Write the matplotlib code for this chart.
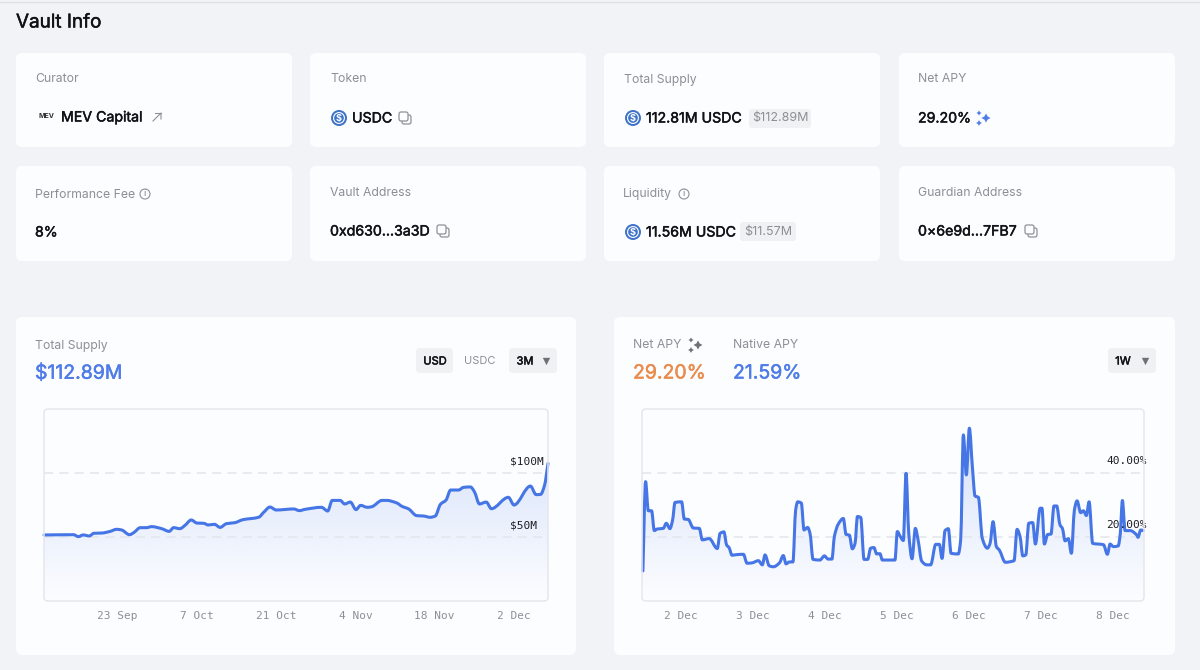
"""
plot.py
Vault info dashboard: stat cards on top, supply and APY charts below.
"""
import matplotlib
matplotlib.use('Agg')
import matplotlib.pyplot as plt
import matplotlib.patheffects as pe
from matplotlib.patches import Circle, FancyBboxPatch, PathPatch, Polygon
from matplotlib.path import Path
from matplotlib.colors import to_rgb
import numpy as np

W, H = 1200, 670
BG = '#f2f3f6'
CARD = '#fcfdff'
BLUE = '#4676e6'
VALUE_BLUE = '#4f7ce8'
ORANGE = '#e98c4e'
GREY = '#8d8f95'
DARK = '#111216'
BADGE = '#f0f1f3'
EDGE = '#e6e7eb'

# Total supply chart, days since 10 Sep, $M
supply_days = [0, 5.2, 6.1, 6.9, 8.0, 8.8, 10.2, 11.7, 12.8, 13.7, 15.1, 15.9, 17.0, 18.1,
               19.0, 20.8, 22.1, 22.9, 24.0, 24.9, 26.0, 27.0, 28.2, 29.0, 30.1, 31.1,
               32.2, 33.7, 35.1, 37.9, 38.8, 39.9, 41.0, 44.1, 45.1, 46.1, 49.0, 50.1,
               50.9, 52.3, 53.1, 54.1, 55.1, 55.9, 57.1, 57.9, 59.7, 60.5, 62.3, 63.2,
               64.4, 65.8, 67.0, 68.2, 69.1, 70.0, 71.0, 71.8, 73.2, 74.1, 75.3, 76.0,
               76.9, 78.1, 79.0, 82.0, 83.0, 85.9, 86.9, 87.7, 88.4, 89.0]
supply_musd = [51.6, 51.8, 50.3, 51.6, 50.8, 52.9, 53.1, 54.4, 56.0, 55.5, 51.8, 53.6, 57.3,
               57.3, 58.1, 56.5, 54.4, 57.3, 56.5, 59.1, 63.3, 60.9, 60.7, 59.4, 59.9, 57.5,
               60.4, 61.2, 63.5, 65.4, 69.3, 73.4, 71.1, 71.9, 70.6, 71.6, 73.2, 70.3,
               78.6, 78.6, 75.8, 77.3, 71.4, 74.7, 73.2, 73.7, 78.6, 78.6, 76.6, 74.0,
               71.9, 66.7, 66.4, 65.4, 66.4, 75.5, 78.9, 86.7, 86.7, 88.8, 89.1, 85.4,
               75.8, 77.3, 72.1, 81.0, 75.0, 89.8, 83.1, 83.3, 90.6, 107.5]
supply_tick_days = [13, 27, 41, 55, 69, 83]
supply_tick_labels = ['23 Sep', '7 Oct', '21 Oct', '4 Nov', '18 Nov', '2 Dec']
supply_grid = [50, 100]
supply_grid_labels = ['$50M', '$100M']

# APY chart, hours since the start of the 1W window, percent
apy_hours = [0.3, 1.2, 2.1, 3.2, 4.1, 5.1, 7.1, 8.1, 9.3, 10.2, 11.0, 13.2, 14.1, 15.4, 17.1,
             19.1, 20.1, 22.4, 25.1, 26.0, 27.3, 28.2, 29.0, 30.0, 31.6, 33.8, 35.0, 36.6,
             38.8, 40.1, 41.0, 42.4, 43.8, 45.8, 47.1, 48.0, 49.1, 50.3, 51.2, 51.9, 53.1,
             54.0, 55.2, 56.0, 57.0, 59.3, 60.8, 62.0, 63.3, 64.1, 65.4, 67.1, 68.0, 69.1,
             70.1, 71.0, 71.8, 72.9, 74.0, 75.2, 76.2, 77.3, 78.2, 79.3, 80.1, 84.3, 85.1,
             86.0, 87.1, 88.0, 88.9, 90.0, 91.1, 92.0, 93.2, 94.9, 96.2, 97.9, 99.1, 100.0,
             101.0, 102.1, 103.0, 105.4, 106.2, 107.1, 108.1, 109.1, 110.1, 111.0, 112.1,
             113.4, 115.1, 116.0, 117.0, 118.1, 119.1, 121.1, 124.0, 125.0, 126.0, 126.9,
             127.9, 128.9, 130.2, 131.1, 132.7, 133.3, 134.1, 135.2, 136.3, 137.3, 138.2,
             139.3, 140.1, 141.0, 142.1, 143.1, 144.1, 145.0, 146.2, 147.1, 148.1, 149.0,
             150.2, 153.8, 155.1, 156.0, 157.1, 158.7, 159.4, 160.1, 161.0, 162.7, 164.9,
             165.3, 166.2, 167.1]
apy_pct = [9.4, 37.3, 28.2, 28.2, 22.0, 22.5, 22.7, 24.3, 22.6, 25.3, 30.8, 31.0, 25.6, 25.5,
           22.8, 22.7, 19.1, 19.5, 16.4, 21.1, 21.6, 17.5, 16.7, 14.3, 14.5, 14.6, 11.8, 11.9,
           12.6, 11.3, 14.4, 11.0, 10.7, 11.9, 14.2, 11.6, 12.2, 12.2, 28.4, 31.0, 30.6,
           22.2, 23.0, 21.1, 13.0, 12.8, 14.1, 13.1, 13.1, 20.1, 24.0, 25.8, 20.8, 20.6,
           16.3, 18.0, 26.4, 26.1, 13.0, 13.0, 16.5, 16.7, 14.7, 14.8, 12.8, 12.8, 21.7,
           20.3, 18.9, 39.9, 21.1, 13.2, 22.7, 19.1, 12.5, 11.3, 11.3, 17.7, 17.7, 13.3,
           22.0, 22.6, 14.9, 14.7, 19.1, 51.9, 39.4, 54.0, 42.0, 32.8, 32.4,
           19.6, 16.5, 18.0, 24.8, 17.0, 15.9, 12.1, 12.6, 22.4, 20.1, 14.1,
           14.4, 24.3, 24.5, 17.8, 29.0, 29.0, 17.8, 20.8, 20.9, 29.7, 29.7,
           23.8, 22.7, 18.8, 19.5, 14.9, 28.4, 31.3, 27.6, 28.2, 26.7, 31.0,
           18.0, 17.6, 14.6, 17.8, 17.0, 17.2, 21.1, 31.4, 22.0, 22.0, 20.6,
           19.9, 22.2, 22.0]
apy_tick_hours = [13, 37, 61, 85, 109, 133, 157]
apy_tick_labels = ['2 Dec', '3 Dec', '4 Dec', '5 Dec', '6 Dec', '7 Dec', '8 Dec']
apy_grid = [20, 40]
apy_grid_labels = ['20.00%', '40.00%']

plt.rcParams['font.family'] = ['Inter', 'DejaVu Sans']
MONO = 'DejaVu Sans Mono'

fig = plt.figure(figsize=(W / 100, H / 100), dpi=100, facecolor=BG)
page = fig.add_axes([0, 0, 1, 1])
page.set_xlim(0, W)
page.set_ylim(H, 0)
page.axis('off')


def box(x0, y0, x1, y1, color, radius=6, ax=page, **kw):
    patch = FancyBboxPatch((x0 + radius, y0 + radius), x1 - x0 - 2 * radius, y1 - y0 - 2 * radius,
                           boxstyle=f'round,pad={radius},rounding_size={radius}',
                           fc=color, ec='none', **kw)
    ax.add_patch(patch)
    return patch


def label(x, y, s, size=8.8, color=GREY, **kw):
    # Inter sits a little high with va=center
    kw.setdefault('va', 'center')
    return page.text(x, y + 1.5, s, fontsize=size, color=color, **kw)


def value(x, y, s, size=10.2, color=DARK):
    # the installed Inter has no medium face here, so thicken the regular one a touch
    t = label(x, y, s, size=size, color=color)
    t.set_path_effects([pe.withStroke(linewidth=0.35, foreground=color)])
    return t


def coin(x, y):
    page.add_patch(Circle((x, y), 8, fc='#3f74c8', ec='none'))
    page.add_patch(Circle((x, y), 5.4, fc='none', ec='white', lw=0.8))
    label(x, y - 1.5, '$', size=6.5, color='white', ha='center', fontweight='bold')


def copy_icon(x, y):
    for dx, dy in [(1.5, 1.5), (-1.5, -1.5)]:
        patch = box(x + dx - 4.5, y + dy - 4.5, x + dx + 4.5, y + dy + 4.5, CARD, radius=2)
        patch.set_edgecolor('#8f9196')
        patch.set_linewidth(0.9)


def info_icon(x, y):
    page.add_patch(Circle((x, y), 5, fc='none', ec='#8f9196', lw=0.8))
    label(x, y - 1.5, 'i', size=6.5, color='#77797f', ha='center')


def sparkle(x, y, color):
    page.scatter([x + 3, x - 4, x - 4], [y, y - 5, y + 5], s=[42, 14, 18], marker=(4, 1, 0),
                 color=color, linewidths=0)


def dropdown(x0, x1, text, text_x, tri_x):
    box(x0, 348, x1, 373, BADGE, radius=4)
    value(text_x, 360, text, size=8).set_ha('center')
    page.scatter([tri_x], [361], s=28, marker='v', color='#6f7176', linewidths=0)


def smooth_path(xs, ys):
    # monotone cubic through the read points, the way the chart library draws its line
    x = np.asarray(xs, float)
    y = np.asarray(ys, float)
    h = np.diff(x)
    d = np.diff(y) / h
    m = np.zeros_like(y)
    m[0], m[-1] = d[0], d[-1]
    for i in range(1, len(y) - 1):
        if d[i - 1] * d[i] > 0:
            m[i] = 2 * d[i - 1] * d[i] / (d[i - 1] + d[i])
    verts = [(x[0], y[0])]
    codes = [Path.MOVETO]
    for i in range(len(h)):
        verts += [(x[i] + h[i] / 3, y[i] + m[i] * h[i] / 3),
                  (x[i + 1] - h[i] / 3, y[i + 1] - m[i + 1] * h[i] / 3),
                  (x[i + 1], y[i + 1])]
        codes += [Path.CURVE4] * 3
    return Path(verts, codes)


# page frame
page.plot([0, W], [2, 2], color='#dfe0e4', lw=1)
value(16, 21, 'Vault Info', size=13.6)

for x0, x1 in [(16, 292), (310, 586), (604, 880), (899, 1175)]:
    box(x0, 53, x1, 147, CARD)
    box(x0, 166, x1, 261, CARD)

label(35, 78, 'Curator')
label(330, 78, 'Token')
label(624, 78, 'Total Supply')
label(918, 78, 'Net APY')
label(35, 193, 'Performance Fee')
label(330, 191, 'Vault Address')
label(623, 193, 'Liquidity')
label(918, 191, 'Guardian Address')

label(46, 114, 'MEV', size=5, color='#333333', ha='center', fontweight='bold')
value(61, 116, 'MEV Capital')
page.plot([153, 161, 161], [121, 113, 119], color='#8f9196', lw=0.8)
page.plot([155, 161], [113, 113], color='#8f9196', lw=0.8)
coin(339, 118)
value(352, 117, 'USDC')
copy_icon(405, 118)
coin(633, 118)
value(646, 117, '112.81M USDC')
box(749, 109, 811, 128, BADGE, radius=3)
label(780, 117, '$112.89M', size=9, ha='center')
value(918, 117, '29.20%')
sparkle(983, 118, '#4f7ce8')

info_icon(145, 194)
info_icon(684, 194)
value(35, 231, '8%')
value(330, 230, '0xd630...3a3D')
copy_icon(443, 231)
coin(633, 232)
value(646, 231, '11.56M USDC')
box(740, 222, 796, 241, BADGE, radius=3)
label(768, 231, '$11.57M', size=9, ha='center')
value(918, 230, '0×6e9d...7FB7')
copy_icon(1031, 231)

# chart cards and their headers
box(16, 317, 576, 655, CARD)
box(614, 317, 1175, 655, CARD)

label(35, 344, 'Total Supply')
value(35, 372, '$112.89M', size=14, color=VALUE_BLUE)
box(416, 348, 453, 373, BADGE, radius=4)
value(435, 360, 'USD', size=8).set_ha('center')
label(480, 360, 'USDC', size=8, ha='center')
dropdown(509, 557, '3M', 525, 546)

label(633, 344, 'Net APY')
sparkle(695, 345, '#6f7176')
label(733, 344, 'Native APY')
value(633, 372, '29.20%', size=14, color=ORANGE)
value(733, 372, '21.59%', size=14, color=VALUE_BLUE)
dropdown(1108, 1156, '1W', 1123, 1145)


def line_chart(x0, x1, xs, ys, xlim, ymax, ticks, tick_labels, grid, grid_labels):
    y0, y1 = 409, 601
    ax = fig.add_axes([x0 / W, 1 - y1 / H, (x1 - x0) / W, (y1 - y0) / H])
    ax.patch.set_alpha(0)
    ax.set_xlim(*xlim)
    ax.set_ylim(0, ymax)
    for spine in ax.spines.values():
        spine.set_visible(False)

    # gradient under the line, faded out towards the x axis
    rgba = np.zeros((256, 1, 4))
    rgba[..., :3] = to_rgb(BLUE)
    rgba[..., 3] = np.linspace(0.24, 0.0, 256)[:, None]
    im = ax.imshow(rgba, extent=(xlim[0], xlim[1], 0, ymax), origin='upper',
                   aspect='auto', zorder=1, interpolation='bilinear')
    verts = [(xs[0], 0)] + list(zip(xs, ys)) + [(xs[-1], 0)]
    clip = Polygon(verts, closed=True, transform=ax.transData, fc='none', ec='none')
    ax.add_patch(clip)
    im.set_clip_path(clip)

    ax.hlines(grid, *xlim, color='#e3e5ea', lw=1.1, linestyles=(0, (6, 4)), zorder=2)
    ax.add_patch(PathPatch(smooth_path(xs, ys), fc='none', ec=BLUE, lw=2.2, joinstyle='round',
                           capstyle='round', zorder=3, clip_on=False))

    ax.set_yticks([])
    ax.set_xticks(ticks, tick_labels, family=MONO, fontsize=8, color=GREY)
    ax.tick_params(axis='x', length=0, pad=7)

    for g, s in zip(grid, grid_labels):
        ax.annotate(s, xy=(1, g), xycoords=ax.get_yaxis_transform(), xytext=(-38, 12),
                    textcoords='offset pixels', family=MONO, fontsize=8, color='#1d1e22',
                    va='center', ha='left', zorder=4, annotation_clip=False)

    # rounded frame drawn in page coordinates
    frame = FancyBboxPatch((x0 + 4, y0 + 4), x1 - x0 - 8, y1 - y0 - 8,
                           boxstyle='round,pad=4,rounding_size=4', fc='none', ec=EDGE, lw=1.1,
                           transform=page.transData, clip_on=False, zorder=5)
    ax.add_patch(frame)
    return ax


line_chart(44, 548, supply_days, supply_musd, (0, 89), 150,
           supply_tick_days, supply_tick_labels, supply_grid, supply_grid_labels)
line_chart(642, 1144, apy_hours, apy_pct, (0, 167.3), 60,
           apy_tick_hours, apy_tick_labels, apy_grid, apy_grid_labels)

fig.savefig('out.png', dpi=100, facecolor=BG)
